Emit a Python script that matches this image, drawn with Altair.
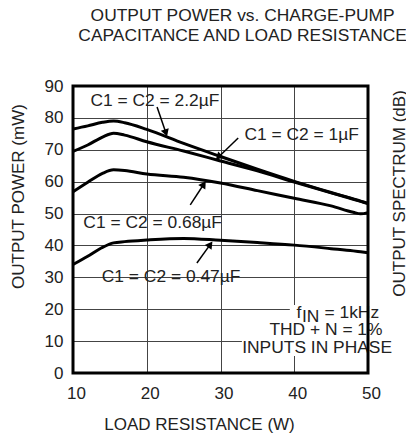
import math
import altair as alt
import pandas as pd

# ---------------- data ----------------
load_ohms = [10, 12, 14, 15.5, 17, 20, 25, 30, 35, 40, 45, 48, 49, 50]
p_22uF = [76.5, 77.5, 78.6, 79.0, 78.5, 76.4, 72.0, 67.9, 63.9, 60.1, 56.6, 54.6, 53.9, 53.2]
p_1uF = [69.5, 71.5, 74.0, 75.2, 74.6, 72.5, 69.6, 66.5, 63.4, 59.9, 56.5, 54.5, 53.8, 53.1]
p_068uF = [56.8, 59.8, 62.6, 63.7, 63.5, 62.4, 61.4, 59.6, 57.2, 54.8, 52.4, 50.4, 49.9, 50.3]
p_047uF = [34.0, 36.6, 39.4, 40.8, 41.2, 41.7, 42.2, 41.6, 40.9, 40.1, 39.0, 38.3, 38.0, 37.7]
series_names = ["2.2uF", "1uF", "0.68uF", "0.47uF"]

curve_labels = ["C1 = C2 = 2.2µF", "C1 = C2 = 1µF", "C1 = C2 = 0.68µF", "C1 = C2 = 0.47µF"]
label_x = [21.1, 41.0, 20.8, 23.3]
label_y = [85.3, 74.6, 47.0, 30.1]

arrow_x0 = [21.4, 32.4, 25.9, 26.8]
arrow_y0 = [83.4, 73.7, 52.7, 34.5]
arrow_x1 = [22.7, 29.5, 27.9, 28.8]
arrow_y1 = [74.6, 67.2, 59.8, 40.9]

x_ticks = [10, 20, 30, 40, 50]
y_ticks = [0, 10, 20, 30, 40, 50, 60, 70, 80, 90]
x_domain = [10, 50]
y_domain = [0, 90]

FONT = "Liberation Sans"
TXT = "#222222"
W, H = 295, 287
PX_X = W / 40.0
PX_Y = H / 90.0

rows = []
for name, vals in zip(series_names, [p_22uF, p_1uF, p_068uF, p_047uF]):
    for x, y in zip(load_ohms, vals):
        rows.append({"series": name, "R": x, "P": y})
df = pd.DataFrame(rows)

lab_df = pd.DataFrame({"t": curve_labels, "x": label_x, "y": label_y})

arr_rows = []
for x0, y0, x1, y1 in zip(arrow_x0, arrow_y0, arrow_x1, arrow_y1):
    dx = (x1 - x0) * PX_X
    dy = -(y1 - y0) * PX_Y  # screen, down positive
    ang = math.degrees(math.atan2(dx, -dy)) % 360
    L = math.hypot(dx, dy)
    back = 3.5
    hx = x1 - (dx / L) * back / PX_X
    hy = y1 + (dy / L) * back / PX_Y
    arr_rows.append({"x0": x0, "y0": y0, "x1": hx, "y1": hy, "hx": hx, "hy": hy, "ang": ang})
arr_df = pd.DataFrame(arr_rows)

mask_df = pd.DataFrame({
    "x": [39.4, 36.4, 32.9],
    "x2": [50, 50, 50],
    "y": [16.0, 11.0, 5.3],
    "y2": [21.3, 16.0, 11.0],
})
frame_df = pd.DataFrame({"x": [x_domain[0]], "x2": [x_domain[1]], "y": [y_domain[0]], "y2": [y_domain[1]]})

xs = alt.Scale(domain=x_domain, nice=False, zero=False)
ys = alt.Scale(domain=y_domain, nice=False, zero=False)

x_axis = alt.Axis(values=x_ticks, title="LOAD RESISTANCE (W)", grid=True,
                  gridColor="#444444", gridWidth=1, domain=False, ticks=False,
                  labelPadding=12, labelOffset=3, labelFontSize=17, labelFont=FONT, labelColor=TXT,
                  titleFont=FONT, titleFontSize=17, titleFontWeight="normal",
                  titleColor=TXT, titleX=126, titleY=51, titleBaseline="middle",
                  labelFlush=False, labelOverlap=False)
y_axis = alt.Axis(values=y_ticks, title="OUTPUT POWER (mW)", grid=True,
                  gridColor="#444444", gridWidth=1, domain=False, ticks=False,
                  labelPadding=10, labelFontSize=17, labelFont=FONT, labelColor=TXT,
                  titleFont=FONT, titleFontSize=17, titleFontWeight="normal",
                  titleColor=TXT, titleX=-55, titleY=110, titleAngle=270,
                  titleBaseline="middle", titleAlign="center", labelFlush=False,
                  labelOverlap=False)


def X(field):
    return alt.X(field, scale=xs, axis=x_axis)


def Y(field):
    return alt.Y(field, scale=ys, axis=y_axis)


lines = alt.Chart(df).mark_line(color="black", strokeWidth=3, interpolate="monotone").encode(
    x=X("R:Q"), y=Y("P:Q"), detail="series:N",
)

masks = alt.Chart(mask_df).mark_rect(color="white").encode(
    x=X("x:Q"), x2="x2:Q", y=Y("y:Q"), y2="y2:Q"
)

frame = alt.Chart(frame_df).mark_rect(fill=None, fillOpacity=0, stroke="black", strokeWidth=3).encode(
    x=X("x:Q"), x2="x2:Q", y=Y("y:Q"), y2="y2:Q"
)

labels = alt.Chart(lab_df).mark_text(font=FONT, fontSize=17.4, color=TXT, baseline="middle").encode(
    x=X("x:Q"), y=Y("y:Q"), text="t:N"
)

arrows = alt.Chart(arr_df).mark_rule(color="black", strokeWidth=1.5).encode(
    x=X("x0:Q"), y=Y("y0:Q"), x2="x1:Q", y2="y1:Q"
)
heads = alt.Chart(arr_df).mark_point(shape="triangle", filled=True, color="black", size=70, opacity=1).encode(
    x=X("hx:Q"), y=Y("hy:Q"), angle=alt.Angle("ang:Q", scale=None)
)

note_df = pd.DataFrame({
    "t": ["f", "IN", "= 1kHz", "THD + N = 1%", "INPUTS IN PHASE"],
    "x": [40.3, 41.05, 44.1, 44.3, 43.1],
    "y": [18.8, 17.5, 18.8, 13.5, 7.8],
    "al": ["left", "left", "left", "center", "center"],
})
notes_left = alt.Chart(note_df[note_df.al == "left"]).mark_text(
    font=FONT, fontSize=17.4, color=TXT, baseline="middle", align="left").encode(
    x=X("x:Q"), y=Y("y:Q"), text="t:N")
notes_center = alt.Chart(note_df[note_df.al == "center"]).mark_text(
    font=FONT, fontSize=17.4, color=TXT, baseline="middle", align="center").encode(
    x=X("x:Q"), y=Y("y:Q"), text="t:N")

side_df = pd.DataFrame({"t": ["OUTPUT SPECTRUM (dB)"], "x": [54.4], "y": [56.3]})
side = alt.Chart(side_df).mark_text(font=FONT, fontSize=17, color=TXT, angle=270,
                                    baseline="middle", align="center").encode(
    x=X("x:Q"), y=Y("y:Q"), text="t:N")

title_df = pd.DataFrame({"t": ["OUTPUT POWER vs. CHARGE-PUMP", "CAPACITANCE AND LOAD RESISTANCE"],
                         "x": [33.0, 33.0], "y": [112.0, 105.8]})
titles = alt.Chart(title_df).mark_text(font=FONT, fontSize=17.4, color=TXT, baseline="middle",
                                       align="center").encode(
    x=X("x:Q"), y=Y("y:Q"), text="t:N")

chart = alt.layer(masks, lines, labels, arrows, heads, notes_left, notes_center, side, titles, frame).properties(
    width=W, height=H,
    autosize=alt.AutoSizeParams(type="none"),
    padding={"left": 65, "top": 78, "right": 38, "bottom": 60},
).configure_view(stroke=None).configure(background="white")

chart.save("out.html", embed_options={"renderer": "svg", "actions": False})
